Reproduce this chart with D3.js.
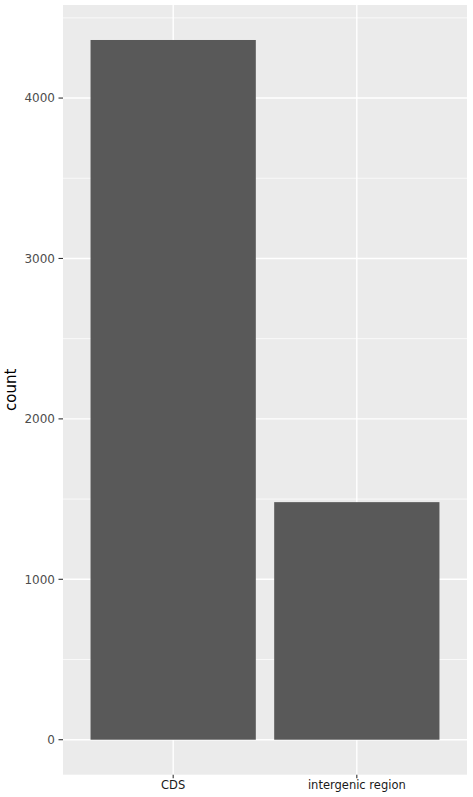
<!DOCTYPE html>
<html>
<head>
<meta charset="utf-8">
<script src="https://cdn.jsdelivr.net/npm/d3@7"></script>
<style>
  body { margin: 0; background: #fff; }
  text { font-family: "DejaVu Sans", sans-serif; }
</style>
</head>
<body>
<svg id="svg" width="473" height="797"></svg>
<script>
// data
var categories = ["CDS", "intergenic region"];
var counts = [4362, 1481];
var yTicks = [0, 1000, 2000, 3000, 4000];
var yMinor = [500, 1500, 2500, 3500, 4500];

var svg = d3.select("#svg");
var pLeft = 63, pRight = 467, pTop = 5, pBottom = 774.7;

// ggplot style expansion: 5% continuous, 0.6 units discrete
var maxV = d3.max(counts);
var y = d3.scaleLinear().domain([-0.05 * maxV, maxV * 1.05]).range([pBottom, pTop]);
var xPos = d3.scaleLinear().domain([0.4, categories.length + 0.6]).range([pLeft, pRight]);
var unit = xPos(2) - xPos(1);

// panel
svg.append("rect").attr("x", pLeft).attr("y", pTop)
  .attr("width", pRight - pLeft).attr("height", pBottom - pTop).attr("fill", "#EBEBEB");

var grid = svg.append("g");
grid.selectAll(".minor").data(yMinor).enter().append("line")
  .attr("x1", pLeft).attr("x2", pRight)
  .attr("y1", function(d) { return y(d); }).attr("y2", function(d) { return y(d); })
  .attr("stroke", "#fff").attr("stroke-width", 0.7);
grid.selectAll(".major").data(yTicks).enter().append("line")
  .attr("x1", pLeft).attr("x2", pRight)
  .attr("y1", function(d) { return y(d); }).attr("y2", function(d) { return y(d); })
  .attr("stroke", "#fff").attr("stroke-width", 1.4);
grid.selectAll(".vmajor").data(categories).enter().append("line")
  .attr("x1", function(d, i) { return xPos(i + 1); }).attr("x2", function(d, i) { return xPos(i + 1); })
  .attr("y1", pTop).attr("y2", pBottom)
  .attr("stroke", "#fff").attr("stroke-width", 1.4);

// bars
svg.selectAll(".bar").data(counts).enter().append("rect")
  .attr("x", function(d, i) { return xPos(i + 1) - unit * 0.45; })
  .attr("width", unit * 0.9)
  .attr("y", function(d) { return y(d); })
  .attr("height", function(d) { return y(0) - y(d); })
  .attr("fill", "#595959");

// y axis
var yAxis = svg.append("g");
yAxis.selectAll("line").data(yTicks).enter().append("line")
  .attr("x1", pLeft - 4.5).attr("x2", pLeft)
  .attr("y1", function(d) { return y(d); }).attr("y2", function(d) { return y(d); })
  .attr("stroke", "#333").attr("stroke-width", 1.1);
yAxis.selectAll("text").data(yTicks).enter().append("text")
  .attr("x", pLeft - 8).attr("y", function(d) { return y(d); })
  .attr("dy", "0.36em").attr("text-anchor", "end")
  .attr("font-size", 12).attr("fill", "#4D4D4D")
  .text(function(d) { return d; });

// x axis
var xAxis = svg.append("g");
xAxis.selectAll("line").data(categories).enter().append("line")
  .attr("x1", function(d, i) { return xPos(i + 1); }).attr("x2", function(d, i) { return xPos(i + 1); })
  .attr("y1", pBottom).attr("y2", pBottom + 3.5)
  .attr("stroke", "#333").attr("stroke-width", 1.1);
xAxis.selectAll("text").data(categories).enter().append("text")
  .attr("x", function(d, i) { return xPos(i + 1); }).attr("y", 789)
  .attr("text-anchor", "middle").attr("font-size", 11.5).attr("fill", "#1a1a1a")
  .text(function(d) { return d; });

// axis title
svg.append("text")
  .attr("transform", "translate(16," + ((pTop + pBottom) / 2) + ") rotate(-90)")
  .attr("text-anchor", "middle").attr("font-size", 15).attr("fill", "#000")
  .text("count");
</script>
</body>
</html>
